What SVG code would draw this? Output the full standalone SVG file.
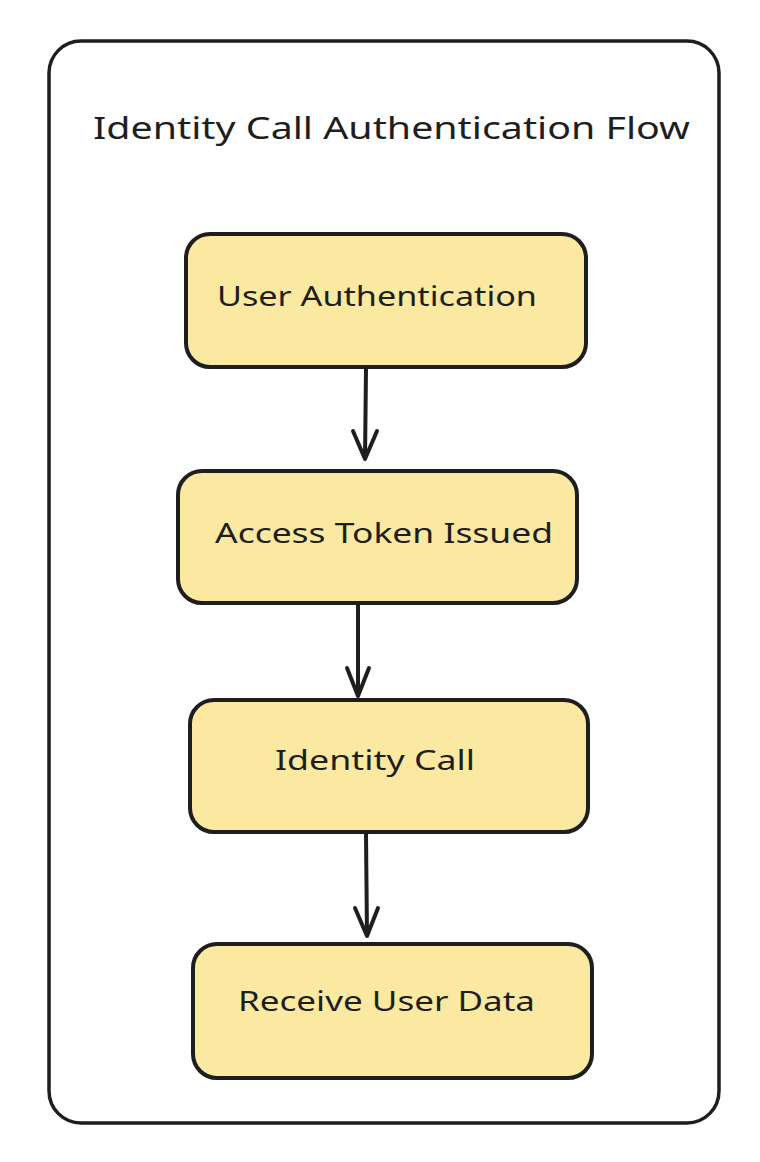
<svg xmlns="http://www.w3.org/2000/svg" width="760" height="1162" viewBox="0 0 760 1162">
<defs>
<style>
.frame{fill:#ffffff;stroke:#1e1e1e;stroke-width:3.5}
.box{fill:#fbe9a1;stroke:#1e1e1e;stroke-width:4}
.lbl{font-family:"Noto Sans","Liberation Sans",sans-serif;font-size:27px;fill:#1e1e1e}
.ttl{font-family:"Noto Sans","Liberation Sans",sans-serif;font-size:30px;fill:#1e1e1e}
.edge{fill:none;stroke:#1e1e1e;stroke-width:4;stroke-linecap:round;stroke-linejoin:round}
</style>
</defs>
<rect width="760" height="1162" fill="#ffffff"/>
<g id="container">
<rect class="frame" x="49" y="41" width="670" height="1082" rx="32" ry="32"/>
<text class="ttl" x="93" y="139" textLength="597" lengthAdjust="spacingAndGlyphs">Identity Call Authentication Flow</text>
</g>
<g id="connectors">
<path class="edge" d="M366 369 L365 459 M353 431 L365 459 L377 431"/>
<path class="edge" d="M358 604 L358 696 M347 668 L358 696 L369 668"/>
<path class="edge" d="M366 834 L367 936 M355 908 L367 936 L378 908"/>
</g>
<g id="node-user-auth">
<rect class="box" x="186" y="234" width="400" height="133" rx="24" ry="24"/>
<text class="lbl" x="217" y="306" textLength="320" lengthAdjust="spacingAndGlyphs">User Authentication</text>
</g>
<g id="node-access-token">
<rect class="box" x="178" y="471" width="399" height="132" rx="24" ry="24"/>
<text class="lbl" x="215" y="543" textLength="338" lengthAdjust="spacingAndGlyphs">Access Token Issued</text>
</g>
<g id="node-identity-call">
<rect class="box" x="190" y="700" width="398" height="132" rx="24" ry="24"/>
<text class="lbl" x="275" y="770" textLength="200" lengthAdjust="spacingAndGlyphs">Identity Call</text>
</g>
<g id="node-receive-data">
<rect class="box" x="193" y="944" width="399" height="134" rx="24" ry="24"/>
<text class="lbl" x="238" y="1011" textLength="297" lengthAdjust="spacingAndGlyphs">Receive User Data</text>
</g>
</svg>
